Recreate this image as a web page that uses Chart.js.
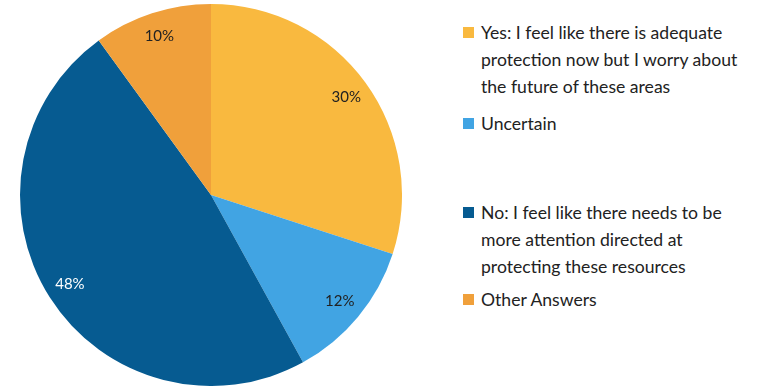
<!DOCTYPE html>
<html>
<head>
<meta charset="utf-8">
<script src="https://cdn.jsdelivr.net/npm/chart.js@4"></script>
<style>
  body { margin: 0; background: #fff; width: 758px; height: 386px; overflow: hidden; position: relative; font-family: Lato, sans-serif; }
  #pieBox { position: absolute; left: 20px; top: 4px; width: 382px; height: 382px; }
  #legend { position: absolute; left: 463px; top: 0; width: 295px; }
  .item { position: absolute; left: 0; width: 295px; font-size: 17.6px; line-height: 27px; color: #222; padding-left: 18px; white-space: nowrap; }
  .swatch { position: absolute; left: 0; top: 8px; width: 11px; height: 11px; }
</style>
</head>
<body>
<div id="pieBox"><canvas id="chart-pie"></canvas></div>
<div id="legend"></div>
<script>
// each label split into its legend lines
const labels = [
  ['Yes: I feel like there is adequate', 'protection now but I worry about', 'the future of these areas'],
  ['Uncertain'],
  ['No: I feel like there needs to be', 'more attention directed at', 'protecting these resources'],
  ['Other Answers']
];
const values = [30, 12, 48, 10];
const colors = ['#F9B93F', '#41A4E3', '#065B91', '#F0A03B'];
const labelColors = ['#222222', '#222222', '#ffffff', '#222222'];

// legend block tops (px), just layout
const legendTops = [19, 110, 199, 286];

const legendEl = document.getElementById('legend');
labels.forEach((lines, i) => {
  const div = document.createElement('div');
  div.className = 'item';
  div.style.top = legendTops[i] + 'px';
  div.innerHTML = `<span class="swatch" style="background:${colors[i]}"></span>${lines.join('<br>')}`;
  legendEl.appendChild(div);
});

const pctLabels = {
  id: 'pctLabels',
  afterDatasetsDraw(chart) {
    const ctx = chart.ctx;
    const meta = chart.getDatasetMeta(0);
    ctx.save();
    ctx.font = '15px Lato, sans-serif';
    ctx.textAlign = 'center';
    ctx.textBaseline = 'middle';
    meta.data.forEach((arc, i) => {
      const mid = (arc.startAngle + arc.endAngle) / 2;
      const r = arc.outerRadius * 0.875;
      ctx.fillStyle = labelColors[i];
      ctx.fillText(values[i] + '%', arc.x + Math.cos(mid) * r, arc.y + Math.sin(mid) * r);
    });
    ctx.restore();
  }
};

new Chart(document.getElementById('chart-pie'), {
  type: 'pie',
  data: {
    labels: labels,
    datasets: [{
      data: values,
      backgroundColor: colors,
      borderWidth: 0
    }]
  },
  options: {
    responsive: true,
    maintainAspectRatio: false,
    animation: false,
    layout: { padding: 0 },
    plugins: { legend: { display: false }, tooltip: { enabled: false } }
  },
  plugins: [pctLabels]
});
</script>
</body>
</html>
